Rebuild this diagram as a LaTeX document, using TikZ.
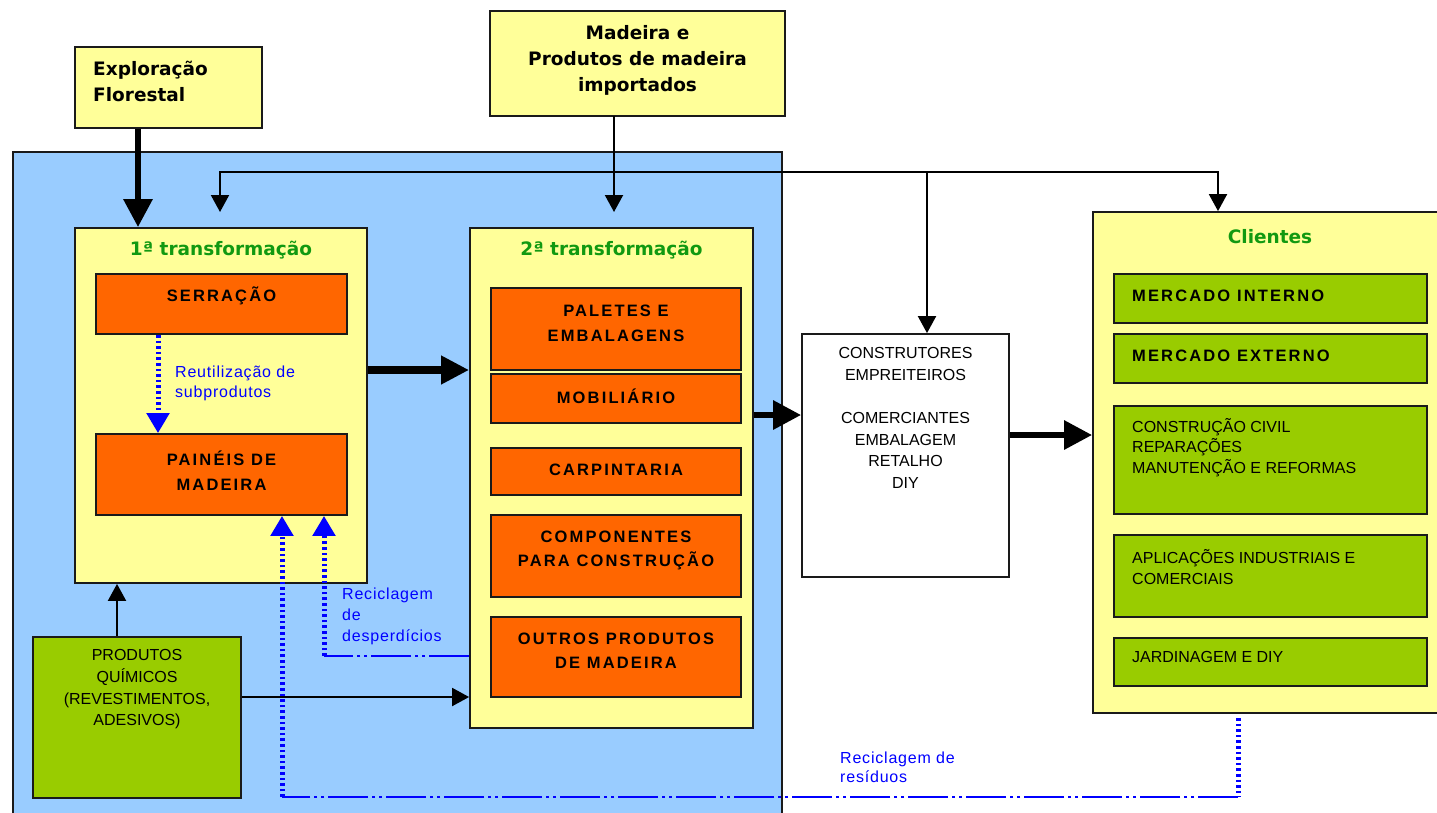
\documentclass[tikz,border=0pt]{standalone}
\usepackage{fontspec}
\setmainfont{Liberation Sans}
\newfontfamily\vfont{DejaVu Sans}
\newfontfamily\capfont[LetterSpace=13]{Liberation Sans}
\newfontfamily\lblfont[LetterSpace=5]{Liberation Sans}
\usetikzlibrary{arrows.meta,fit}
\definecolor{bgblue}{HTML}{99CCFF}
\definecolor{pyellow}{HTML}{FFFF99}
\definecolor{porange}{HTML}{FF6600}
\definecolor{pgreen}{HTML}{99CC00}
\definecolor{tgreen}{HTML}{119911}
\definecolor{lblue}{HTML}{0000FF}
\definecolor{edgec}{HTML}{1A1A1A}
\tikzset{
  box/.style={draw=edgec, line width=1.8pt, inner sep=0pt},
  ybox/.style={box, fill=pyellow},
  obox/.style={box, fill=porange},
  gbox/.style={box, fill=pgreen},
  wbox/.style={box, fill=white},
  txt/.style={inner sep=0pt, align=center},
  headtxt/.style={txt, font=\vfont\bfseries\fontsize{18.5}{26}\selectfont},
  titletxt/.style={headtxt, text=tgreen},
  captxt/.style={txt, font=\capfont\bfseries\fontsize{16.5}{24.5}\selectfont},
  smalltxt/.style={txt, font=\fontsize{16}{21.7}\selectfont},
  lbltxt/.style={inner sep=0pt, align=left, text=lblue, font=\lblfont\fontsize{16}{20}\selectfont},
  thinarrow/.style={draw=black, line width=2pt, -{Triangle[length=17pt,width=18pt]}},
  thickarrow/.style={draw=black, line width=6pt, -{Triangle[length=28pt,width=28pt]}},
  fatarrow/.style={draw=black, line width=8pt, -{Triangle[length=28pt,width=27pt]}},
  bluedot/.style={draw=lblue, line width=5pt, dash pattern=on 2.6pt off 3pt},
  bluedotarrow/.style={bluedot, -{Triangle[length=20pt,width=22pt]}},
  bluedash/.style={draw=lblue, line width=2.4pt, dash pattern=on 40pt off 4pt on 3pt off 4pt on 3pt off 4pt},
}
\begin{document}
\begin{tikzpicture}[x=1pt,y=-1pt]
\clip (0,0) rectangle (1437,812);
\fill[white] (0,0) rectangle (1437,812);

% blue zone
\node[fit={(13,152)(782,840)}, fill=bgblue, draw=edgec, line width=1.6pt, inner sep=0pt] (zone) {};

% boxes
\node[ybox, fit={(75,47)(262,128)}] (expl) {};
\node[ybox, fit={(490,11)(785,116)}] (mad) {};
\node[ybox, fit={(75,228)(367,583)}] (t1) {};
\node[obox, fit={(96,274)(347,334)}] (serr) {};
\node[obox, fit={(96,434)(347,515)}] (pain) {};
\node[ybox, fit={(470,228)(753,728)}] (t2) {};
\node[obox, fit={(491,288)(741,370)}] (pal) {};
\node[obox, fit={(491,374)(741,423)}] (mob) {};
\node[obox, fit={(491,448)(741,495)}] (carp) {};
\node[obox, fit={(491,515)(741,597)}] (comp) {};
\node[obox, fit={(491,617)(741,697)}] (outr) {};
\node[wbox, fit={(802,334)(1009,577)}] (cons) {};
\node[ybox, fit={(1093,212)(1447,713)}] (cli) {};
\node[gbox, fit={(1114,274)(1427,323)}] (mi) {};
\node[gbox, fit={(1114,334)(1427,383)}] (me) {};
\node[gbox, fit={(1114,406)(1427,514)}] (cc) {};
\node[gbox, fit={(1114,535)(1427,617)}] (ai) {};
\node[gbox, fit={(1114,638)(1427,686)}] (jd) {};
\node[gbox, fit={(33,637)(241,798)}] (pq) {};

% helper coordinates
\coordinate (a1) at (138,0);
\coordinate (a2) at (614,116);
\coordinate (a2e) at (614,212);
\coordinate (fL) at (220,172);
\coordinate (fLe) at (220,212);
\coordinate (fM) at (927,172);
\coordinate (fR) at (1218,172);
\coordinate (h1) at (0,370);
\coordinate (h2) at (0,415);
\coordinate (h3) at (0,435);
\coordinate (v1) at (117,0);
\coordinate (h4) at (0,697);
\coordinate (v2) at (158,0);
\coordinate (r1) at (324,656);
\coordinate (r2) at (282,797);
\coordinate (r3) at (1238,797);
\coordinate (r3t) at (1238,718);

% black connectors
\draw[thickarrow] (a1 |- expl.south) -- (a1 |- t1.north);
\draw[thinarrow] (a2) -- (a2e);
\draw[thinarrow, {Triangle[length=17pt,width=18pt]}-{Triangle[length=17pt,width=18pt]}] (fLe) -- (fL) -- (fR) -- (fR |- cli.north);
\draw[thinarrow] (fM) -- (fM |- cons.north);
\draw[fatarrow] (t1.east |- h1) -- (t2.west |- h1);
\draw[thickarrow] (t2.east |- h2) -- (cons.west |- h2);
\draw[thickarrow] (cons.east |- h3) -- (cli.west |- h3);
\draw[thinarrow] (v1 |- pq.north) -- (v1 |- t1.south);
\draw[thinarrow] (pq.east |- h4) -- (t2.west |- h4);

% blue connectors
\draw[bluedotarrow] (v2 |- serr.south) -- (v2 |- pain.north);
\draw[bluedash] (t2.west |- r1) -- (r1);
\draw[bluedotarrow] (r1) -- (r1 |- pain.south);
\draw[bluedot] (r3t) -- (r3);
\draw[bluedash] (r3) -- (r2);
\draw[bluedotarrow] (r2) -- (r2 |- pain.south);

% texts
\node[headtxt, align=left, anchor=west] (explT) at (93,81.5) {Exploração\\Florestal};
\node[headtxt] (madT) at (637.5,60) {Madeira e\\Produtos de madeira\\importados};
\node[titletxt] (t1T) at (221,250) {1ª transformação};
\node[titletxt] (t2T) at (611.5,250) {2ª transformação};
\node[titletxt] (cliT) at (1270,237) {Clientes};

\node[captxt] (serrT) at (221.5,296) {SERRAÇÃO};
\node[captxt] (painT) at (221.5,470.5) {PAINÉIS DE\\MADEIRA};
\node[captxt] (palT) at (616,323.5) {PALETES E\\EMBALAGENS};
\node[captxt] (mobT) at (616,396) {MOBILIÁRIO};
\node[captxt] (carpT) at (616,470) {CARPINTARIA};
\node[captxt] (compT) at (616,550.5) {COMPONENTES\\PARA CONSTRUÇÃO};
\node[captxt] (outrT) at (616,650.5) {OUTROS PRODUTOS\\DE MADEIRA};

\node[captxt, anchor=west] (miT) at (1132,296) {MERCADO INTERNO};
\node[captxt, anchor=west] (meT) at (1132,356) {MERCADO EXTERNO};
\node[smalltxt, align=left, anchor=west, font=\fontsize{16}{20.5}\selectfont] (ccT) at (1132,447.5) {CONSTRUÇÃO CIVIL\\REPARAÇÕES\\MANUTENÇÃO E REFORMAS};
\node[smalltxt, align=left, anchor=west, font=\fontsize{16}{20.5}\selectfont] (aiT) at (1132,567) {APLICAÇÕES INDUSTRIAIS E\\COMERCIAIS};
\node[smalltxt, anchor=west] (jdT) at (1132,657) {JARDINAGEM E DIY};

\node[smalltxt] (consT) at (905.5,418) {CONSTRUTORES\\EMPREITEIROS\\[21.7pt]COMERCIANTES\\EMBALAGEM\\RETALHO\\DIY};
\node[smalltxt] (pqT) at (137,689.5) {PRODUTOS\\QUÍMICOS\\(REVESTIMENTOS,\\ADESIVOS)};

\node[lbltxt, anchor=west] (reutT) at (175,383.5) {Reutilização de\\subprodutos};
\node[lbltxt, anchor=west, font=\lblfont\fontsize{16}{21}\selectfont] (despT) at (342,616) {Reciclagem\\de\\desperdícios};
\node[lbltxt, anchor=west, font=\lblfont\fontsize{16}{19.5}\selectfont] (resT) at (840,767.5) {Reciclagem de\\resíduos};
\end{tikzpicture}
\end{document}
